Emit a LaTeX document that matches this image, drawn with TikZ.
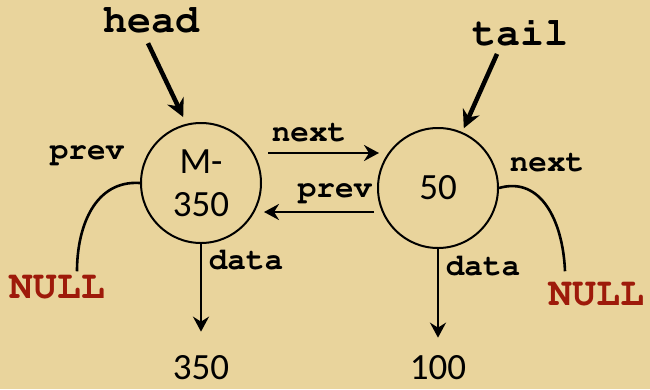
\documentclass[tikz,border=0pt]{standalone}
\usepackage[T1]{fontenc}
\usepackage{fontspec}
\setmainfont{Carlito}
\usetikzlibrary{arrows.meta}
\definecolor{parch}{RGB}{233,212,156}
\definecolor{nullred}{RGB}{158,26,10}
\newcommand{\codefont}[1]{\fontencoding{T1}\fontfamily{pcr}\fontseries{b}\fontsize{#1}{#1}\selectfont}

\begin{document}
\begin{tikzpicture}[x=1pt,y=-1pt]
\tikzstyle{every node}+=[inner sep=0pt]
\tikzstyle{cell}=[draw,circle,line width=2pt,minimum size=120pt,align=center,font=\fontsize{37}{43}\selectfont]
\tikzstyle{ptr}=[line width=2.6pt,-{Stealth[length=15pt,width=16pt,inset=5pt]}]
\tikzstyle{bigptr}=[line width=4.5pt,-{Stealth[length=18pt,width=18pt,inset=6pt]}]
\tikzstyle{lbl}=[font=\codefont{31}]
\tikzstyle{big}=[font=\codefont{40}]
\tikzstyle{nul}=[big,text=nullred]
\fill [parch] (0,0) rectangle (650,389);
% the two list cells
\node [cell] (m350) at (201,183) {M-\\350};
\node [cell] (n50) at (438,188) {50};
% head and tail pointers
\node [big] (head) at (151,20) {head};
\node [big] (tail) at (520,33) {tail};
\draw [bigptr] ([shift={(-3,10)}]head.south) -- ([shift={(-2,-7)}]m350.105);
\draw [bigptr] ([shift={(-23,7)}]tail.south) -- ([shift={(1,-4)}]n50.66);
% links between the cells
\node [lbl] (nxt) at (309,133) {next};
\node [lbl] (prv) at (335,193) {prev};
\draw [ptr] ([shift={(6,-30)}]m350.east) -- ([shift={(2,-35)}]n50.west);
\draw [ptr] ([shift={(-3,24)}]n50.west) -- ([shift={(2,29)}]m350.east);
% ends of the list
\node [lbl] (prvl) at (87,155) {prev};
\node [nul] (nulll) at (57,288) {NULL};
\draw [line width=2.6pt] (m350.west) .. controls +(-45,-3) and +(0,-45) .. ([shift={(20,-5)}]nulll.north);
\node [lbl] (nxtr) at (547,163) {next};
\node [nul] (nullr) at (596,295) {NULL};
\draw [line width=2.6pt] (n50.east) .. controls +(42,-12) and +(-2,-50) .. ([shift={(-31,-12)}]nullr.north);
% data fields
\node [lbl] (dl) at (246,260) {data};
\node [lbl] (dr) at (483,266) {data};
\node [font=\fontsize{37}{37}\selectfont] (v350) at (201,368) {350};
\node [font=\fontsize{37}{37}\selectfont] (v100) at (438,368) {100};
\draw [ptr,shorten >=24pt] (m350.south) -- (v350.north);
\draw [ptr,shorten >=18pt] (n50.south) -- (v100.north);
\end{tikzpicture}
\end{document}
